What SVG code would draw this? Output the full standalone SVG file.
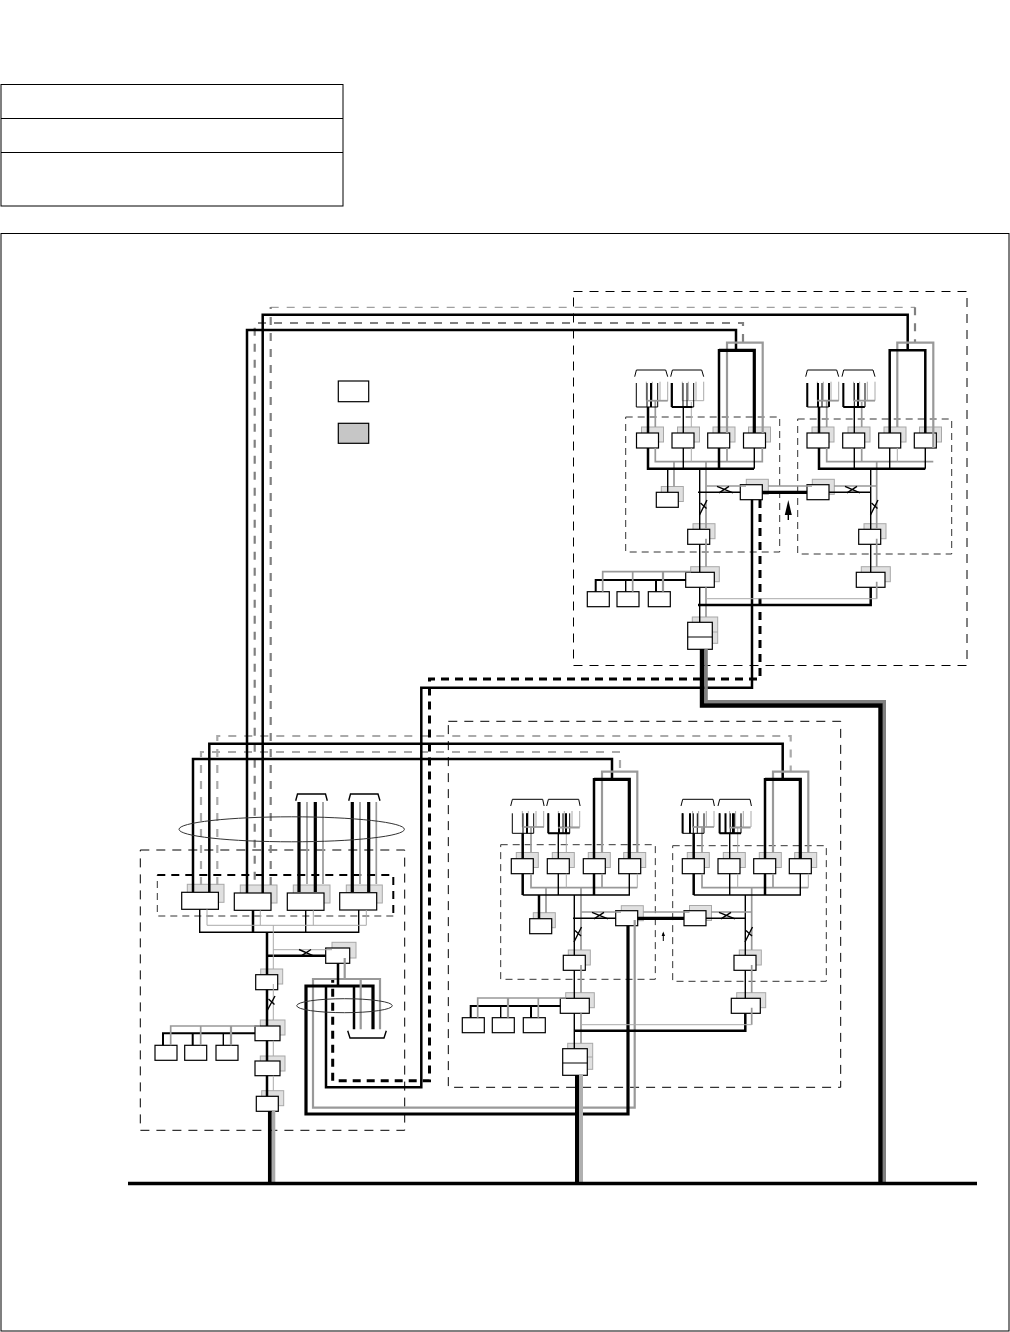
<svg xmlns="http://www.w3.org/2000/svg" width="1010" height="1332" viewBox="0 0 1010 1332">
<style>
rect,path,ellipse{fill:none}
.box{stroke:#000;stroke-width:1}
.s{fill:#e0e0e0;stroke:#a8a8a8;stroke-width:1}
.f{fill:#fff;stroke:#000;stroke-width:1.2}
.big{stroke:#000;stroke-width:1;stroke-dasharray:9 7}
.sub{stroke:#333;stroke-width:1;stroke-dasharray:7 5}
.b0{stroke:#000;stroke-width:1}
.b1{stroke:#000;stroke-width:1.4}
.t{stroke:#000;stroke-width:2}
.b2{stroke:#000;stroke-width:2.5}
.b3{stroke:#000;stroke-width:3.2}
.g0{stroke:#aaa;stroke-width:1}
.g1{stroke:#999;stroke-width:1.7}
.g2{stroke:#999;stroke-width:2.2}
.gd1{stroke:#888;stroke-width:1;stroke-dasharray:8 8}
.gd2{stroke:#808080;stroke-width:2.2;stroke-dasharray:8 8}
.gd3{stroke:#aaa;stroke-width:2.2;stroke-dasharray:8 8}
.bd{stroke:#000;stroke-width:3;stroke-dasharray:8 6}
.oval{stroke:#333;stroke-width:1}
</style>
<defs>
<g id="combT">
<path class="b0" d="M0,6.7L1.7,0H31L33,6.7"/>
<path class="g0" d="M11.6,11.7V30.7M17.6,11.7V30.7M25.3,11.7V30.7M33,11.7V30.7M11.6,30.7H33"/>
<path class="b0" d="M1.6,13V37M12.3,13V37M16.3,13V37M23,13V37M1.6,37H23"/>
</g>
<g id="combL">
<path class="b0" d="M0,6.7L1.7,0H32L33.4,6.7"/>
<path class="g0" d="M11.6,11.7V27.7M17.6,11.7V27.7M25.3,11.7V27.7M33,11.7V27.7M11.6,27.7H33"/>
<path class="b0" d="M1.6,14V34M12.3,14V34M16.3,14V34M23,14V34M1.6,34H23"/>
</g>
</defs>

<g id="table">
<rect class="box" x="1" y="84.5" width="342" height="121.5"/>
<path class="box" d="M1,118.5H343M1,152.5H343"/>
</g>
<rect id="frame" class="box" x="1" y="233.5" width="1008" height="1097.5"/>

<g id="areas">
<rect class="big" x="573.5" y="291.5" width="393.5" height="374"/>
<rect class="sub" x="625.7" y="417" width="154" height="135"/>
<rect class="sub" x="797.7" y="419" width="154" height="135"/>
<rect class="big" x="448.3" y="721.3" width="392.4" height="366"/>
<rect class="sub" x="500.7" y="844.7" width="154.6" height="134.6"/>
<rect class="sub" x="672.7" y="845.7" width="153.6" height="135.6"/>
<rect class="big" x="140.3" y="850" width="264.4" height="280.3"/>
<path class="sub" d="M393.3,916H157.3V875"/>
<path class="bd" d="M157.3,875H393.3V916" style="stroke-width:2"/>
</g>

<g id="legend">
<rect id="legend-white" x="338.3" y="381" width="30.4" height="20.7" style="fill:#fff;stroke:#000;stroke-width:1.2"/>
<rect id="legend-gray" x="338.3" y="423.3" width="30.4" height="20" style="fill:#c6c6c6;stroke:#000;stroke-width:1.2"/>
</g>

<g id="nodes">
<g id="n-a1"><rect class="s" x="641.5" y="427" width="22" height="15"/><rect class="f" x="636.5" y="433" width="22" height="15"/></g>
<g id="n-a2"><rect class="s" x="677.5" y="427" width="22" height="15"/><rect class="f" x="672" y="433" width="22" height="15"/></g>
<g id="n-a3"><rect class="s" x="713" y="427" width="22" height="15"/><rect class="f" x="707.7" y="433" width="22" height="15"/></g>
<g id="n-a4"><rect class="s" x="748.5" y="427" width="22" height="15"/><rect class="f" x="743.5" y="433" width="22" height="15"/></g>
<g id="n-a5"><rect class="s" x="661.3" y="486.5" width="22" height="15"/><rect class="f" x="656.3" y="492.3" width="22" height="15"/></g>
<g id="n-a6"><rect class="s" x="746.3" y="479.3" width="22" height="15"/><rect class="f" x="740.3" y="484.7" width="22" height="15"/></g>
<g id="n-a7"><rect class="s" x="693" y="523.7" width="22" height="15"/><rect class="f" x="687.7" y="529.3" width="22" height="15"/></g>
<g id="n-a8"><rect class="s" x="690.7" y="566.7" width="28.6" height="15"/><rect class="f" x="685.7" y="572.3" width="28.6" height="15"/></g>
<g id="n-a9"><rect class="f" x="587.3" y="591.7" width="22" height="15"/></g>
<g id="n-a10"><rect class="f" x="617" y="591.7" width="22" height="15"/></g>
<g id="n-a11"><rect class="f" x="648.3" y="591.7" width="22" height="15"/></g>
<g id="n-a12"><rect class="s" x="692.3" y="617" width="25.4" height="26.3"/><path class="s" d="M692.3,632H717.7"/><rect class="f" x="687.7" y="622.3" width="24.6" height="27"/><path class="b0" d="M687.7,637H712.3"/></g>

<g id="n-b1"><rect class="s" x="812" y="427" width="22" height="15"/><rect class="f" x="807" y="433" width="22" height="15"/></g>
<g id="n-b2"><rect class="s" x="848" y="427" width="22" height="15"/><rect class="f" x="842.7" y="433" width="22" height="15"/></g>
<g id="n-b3"><rect class="s" x="884" y="427" width="22" height="15"/><rect class="f" x="878.7" y="433" width="22" height="15"/></g>
<g id="n-b4"><rect class="s" x="919.5" y="427" width="22" height="15"/><rect class="f" x="914.3" y="433" width="22" height="15"/></g>
<g id="n-b5"><rect class="s" x="812.3" y="479.3" width="22" height="15"/><rect class="f" x="807" y="484.7" width="22" height="15"/></g>
<g id="n-b6"><rect class="s" x="864" y="523.7" width="22" height="15"/><rect class="f" x="858.7" y="529.3" width="22" height="15"/></g>
<g id="n-b7"><rect class="s" x="861.3" y="566.7" width="29" height="15"/><rect class="f" x="856.3" y="572.3" width="28.7" height="15"/></g>

<g id="n-c1"><rect class="s" x="516.3" y="852.5" width="22" height="15"/><rect class="f" x="511.3" y="858.7" width="22" height="15"/></g>
<g id="n-c2"><rect class="s" x="552.3" y="852.5" width="22" height="15"/><rect class="f" x="547.3" y="858.7" width="22" height="15"/></g>
<g id="n-c3"><rect class="s" x="588.3" y="852.5" width="22" height="15"/><rect class="f" x="583.3" y="858.7" width="22" height="15"/></g>
<g id="n-c4"><rect class="s" x="623.7" y="852.5" width="22" height="15"/><rect class="f" x="618.7" y="858.7" width="22" height="15"/></g>
<g id="n-c5"><rect class="s" x="533.3" y="912.7" width="22" height="15"/><rect class="f" x="529.7" y="918.7" width="22" height="15"/></g>
<g id="n-c6"><rect class="s" x="621.3" y="905.7" width="22" height="15"/><rect class="f" x="615.7" y="910.7" width="22" height="15"/></g>
<g id="n-c7"><rect class="s" x="568.3" y="950" width="22" height="15"/><rect class="f" x="563.3" y="955.3" width="22" height="15"/></g>
<g id="n-c8"><rect class="s" x="565.7" y="992.7" width="28.6" height="15"/><rect class="f" x="560.3" y="998.3" width="29" height="15"/></g>
<g id="n-c9"><rect class="f" x="462.3" y="1017.7" width="22" height="15"/></g>
<g id="n-c10"><rect class="f" x="492.3" y="1017.7" width="22" height="15"/></g>
<g id="n-c11"><rect class="f" x="523.3" y="1017.7" width="22" height="15"/></g>
<g id="n-c12"><rect class="s" x="567.7" y="1043.3" width="25" height="26"/><path class="s" d="M567.7,1057H592.7"/><rect class="f" x="562.7" y="1048.7" width="24.6" height="26.6"/><path class="b0" d="M562.7,1063H587.3"/></g>

<g id="n-d1"><rect class="s" x="687.3" y="852.5" width="22" height="15"/><rect class="f" x="682.3" y="858.7" width="22" height="15"/></g>
<g id="n-d2"><rect class="s" x="723.3" y="852.5" width="22" height="15"/><rect class="f" x="718" y="858.7" width="22" height="15"/></g>
<g id="n-d3"><rect class="s" x="759.3" y="852.5" width="22" height="15"/><rect class="f" x="753.7" y="858.7" width="22" height="15"/></g>
<g id="n-d4"><rect class="s" x="794.7" y="852.5" width="22" height="15"/><rect class="f" x="789.3" y="858.7" width="22" height="15"/></g>
<g id="n-d5"><rect class="s" x="689.5" y="905.5" width="22" height="15"/><rect class="f" x="684" y="910.7" width="22" height="15"/></g>
<g id="n-d6"><rect class="s" x="739.3" y="950" width="22" height="15"/><rect class="f" x="734" y="955.3" width="22" height="15"/></g>
<g id="n-d7"><rect class="s" x="736.7" y="992.7" width="29" height="15"/><rect class="f" x="731.3" y="998.3" width="29" height="15"/></g>

<g id="n-e1"><rect class="s" x="187.3" y="884.3" width="36.7" height="18"/><rect class="f" x="181.7" y="892.3" width="36.7" height="17"/></g>
<g id="n-e2"><rect class="s" x="240.3" y="885" width="36.7" height="18"/><rect class="f" x="234.3" y="893" width="36.7" height="17.3"/></g>
<g id="n-e3"><rect class="s" x="293.3" y="885" width="36.7" height="18"/><rect class="f" x="287.3" y="893" width="36.7" height="17.3"/></g>
<g id="n-e4"><rect class="s" x="346.3" y="885" width="36" height="18"/><rect class="f" x="339.7" y="892.7" width="37" height="17.3"/></g>
<g id="n-e5"><rect class="s" x="332" y="942.3" width="24" height="15.7"/><rect class="f" x="325.7" y="948" width="24" height="15.3"/></g>
<g id="n-e6"><rect class="s" x="260.7" y="969" width="22" height="15"/><rect class="f" x="255.7" y="974.7" width="22" height="15"/></g>
<g id="n-e7"><rect class="s" x="260.3" y="1020" width="24.7" height="15"/><rect class="f" x="255" y="1026" width="25" height="14.7"/></g>
<g id="n-e8"><rect class="f" x="155" y="1045.3" width="22" height="15"/></g>
<g id="n-e9"><rect class="f" x="184.7" y="1045.3" width="22" height="15"/></g>
<g id="n-e10"><rect class="f" x="216" y="1045.3" width="22" height="15"/></g>
<g id="n-e11"><rect class="s" x="260.3" y="1056" width="24.7" height="15"/><rect class="f" x="255" y="1061" width="25" height="14.7"/></g>
<g id="n-e12"><rect class="s" x="261.7" y="1090.7" width="22" height="15"/><rect class="f" x="256.3" y="1096.3" width="22" height="15"/></g>
</g>

<g id="connectors">
<!-- long dashed feeds -->
<path class="gd1" d="M270.7,307.3H915"/>
<path class="gd2" d="M270.7,885V307"/>
<path class="gd2" d="M915,307.3V343"/>
<path class="gd2" d="M743,342V323H254.7V885"/>
<path class="gd3" d="M217.3,885V736H790.7V771"/>
<path class="gd3" d="M201,885V752H620V771"/>
<path class="bd" d="M760,500V679H429.5V1080.7H332.7V980"/>

<!-- long solid feeds -->
<path class="b2" d="M736,350V330H247V893"/>
<path class="b2" d="M907.7,350V314.7H262.7V893"/>
<path class="b2" d="M612,779V759H193V892"/>
<path class="b2" d="M782.7,779V743.7H209.3V892"/>
<path class="b2" d="M752,499.7V687.7H421.3V1087.3H326V986"/>
<path class="g2" d="M634.7,920V1107.7H313V979H380V1029.3"/>
<path class="b3" d="M628,925.7V1114H306V986H373V1029.3"/>
<path class="g2" d="M344.7,958V979M360.7,979V1029.3"/>
<path class="b2" d="M338,963.3V986M354,986V1029.3"/>
<path class="b1" d="M347.7,1030.7L350,1038H384L386.3,1030.7"/>

<!-- backbone -->
<path d="M706,649V701.7H884.2V1183" style="stroke:#808080;stroke-width:3.6"/>
<path d="M702,649V705.5H880.5V1183" style="stroke:#000;stroke-width:4.4"/>
<path d="M581,1075V1183" style="stroke:#b0b0b0;stroke-width:4"/>
<path d="M577,1075V1183" style="stroke:#000;stroke-width:4"/>
<path d="M273.5,1111V1183" style="stroke:#aaa;stroke-width:3.6"/>
<path d="M269.8,1111V1183" style="stroke:#000;stroke-width:3.7"/>
<path d="M128,1183.5H977" style="stroke:#000;stroke-width:3.5"/>

<!-- group a -->
<path class="g2" d="M727,433V342.7H762.7V433"/>
<path class="b2" d="M719,433V350.3H754"/>
<path class="b3" d="M719,350.3H754.3V433"/>
<path class="g1" d="M655.3,427V401"/>
<path class="g0" d="M691.3,427V402"/>
<path class="g1" d="M655.3,448V461.7H762.3V448M727,448V461.7M706,461.7V529M674,461.7V486.5"/>
<path class="g0" d="M691.3,448V461.7"/>
<path class="b2" d="M648,433V407M648,448V468.7H754"/>
<path class="b1" d="M683.3,433V407M683.3,448V468.7M754.3,448V468.7M699.7,468.7V529.3M667.7,468.7V492.3"/>
<path class="b2" d="M719,448V468.7"/>
<path class="b1" d="M698,492.3H740.3"/>
<path class="g1" d="M706.7,486H746"/>
<path class="b1" d="M717,486.3L733,492.8M719,492.8L729,486.3"/>
<path class="b1" d="M699.5,515L707,500M700.5,503L706.5,508.5"/>
<path class="b3" d="M762,492.3H807"/>
<path class="g1" d="M768,486H812"/>
<path class="b1" d="M699.7,544.3V572.3M699.7,587.3V622.3"/>
<path class="g1" d="M706,538.7V566.7M706,587.3V617"/>
<use href="#combT" x="634.7" y="370"/>
<use href="#combT" x="670.7" y="370"/>
<path class="t" d="M651,383V407M671.7,383V407M671.7,407H692.3"/>
<path class="g1" d="M646.3,400.7H667.7"/>

<!-- group b -->
<path class="g2" d="M897.3,427V342.7H933.3V448"/>
<path class="b2" d="M889.7,433V350.3H925.3V433"/>
<path class="g1" d="M826.7,427V401M861.7,427V402"/>
<path class="g1" d="M826.7,448V461.7H933.3M861.7,448V461.7M876.7,461.7V529"/>
<path class="g0" d="M897.3,448V461.7"/>
<path class="b2" d="M819,433V407M819,448V468.7H925.3"/>
<path class="b1" d="M854.3,433V407M854.3,448V468.7M889.7,448V468.7M925.3,448V468.7M870.7,468.7V529.3"/>
<path class="b1" d="M829,492.3H870.7"/>
<path class="g1" d="M834,486H877"/>
<path class="b1" d="M845,486.3L860,492.8M847,492.8L857,486.3"/>
<path class="b1" d="M870.5,515L878,500M871.5,503L877.5,508.5"/>
<path class="b1" d="M870.7,544.3V572.3"/>
<path class="g1" d="M876.7,538.7V566.7M876.7,581.7V598.7"/>
<use href="#combT" x="805.7" y="370"/>
<use href="#combT" x="842" y="370"/>
<path class="t" d="M807.3,383V407M818,383V407M829,383V407M843.3,383V407M858,383V407M843.3,407H864.7"/>
<path class="g1" d="M817.3,400.7H838.7M854,400.7H875"/>

<!-- lower feeder group a -->
<path class="t" d="M595.7,591.7V580H686M656,580V591.7"/>
<path class="b1" d="M625.7,580V591.7"/>
<path class="g1" d="M602.7,591.7V571.7H691M632.7,571.7V591.7"/>
<path class="g2" d="M663,571.7V591.7"/>
<path class="b2" d="M698,605H870.7V587.3"/>
<path class="g0" d="M707,598.7H876.7"/>

<!-- group c -->
<path class="g2" d="M602,852.5V771.7H637.3V852.5"/>
<path class="b2" d="M594,858.7V779.3H629.3"/>
<path class="b3" d="M594,779.3H629.3V858.7"/>
<path class="g1" d="M531,852.5V827"/>
<path class="g0" d="M566.3,852.5V827"/>
<path class="g1" d="M531,873.7V887.7H637.3M602,873.7V887.7M581,887.7V950M546,887.7V913"/>
<path class="g0" d="M566.3,873.7V887.7M637.3,873.7V887.7"/>
<path class="b2" d="M522.7,858.7V833.3M522.7,873.7V895M594,873.7V895M539,895V918.7"/>
<path class="b1" d="M522.7,895H629.3V873.7M558.3,873.7V895M558.3,858.7V833.3M574.3,895V955.3"/>
<path class="b1" d="M573,918.3H615.7"/>
<path class="g1" d="M581,912H621"/>
<path class="b1" d="M592,912.3L608,918.8M594,918.8L604,912.3"/>
<path class="b1" d="M574,942L581.5,927M575,930.5L581,936"/>
<path class="b3" d="M637.7,918.3H684"/>
<path class="g1" d="M643.3,912H689.5"/>
<path class="b1" d="M574.3,970.3V998.3M574.3,1013.3V1048.7"/>
<path class="g1" d="M581,965V992.7M581,1013.3V1043.3"/>
<use href="#combL" x="510.7" y="799.3"/>
<use href="#combL" x="546.7" y="799.3"/>
<path class="t" d="M527,813.3V833.3M548.3,813.3V833.3M559,813.3V833.3M566,813.3V833.3M548.3,833.3H569.7"/>
<path class="g1" d="M522.7,827H544M558.3,827.7H579.7"/>

<!-- group d -->
<path class="g2" d="M773,852.5V771.7H808.3V852.5"/>
<path class="b2" d="M765,858.7V779.3H800.3"/>
<path class="b3" d="M765,779.3H800.3V858.7"/>
<path class="g1" d="M702,852.5V827"/>
<path class="g0" d="M737.7,852.5V827"/>
<path class="g1" d="M702,873.7V887.7H808.3M773,873.7V887.7M751.7,887.7V950"/>
<path class="g0" d="M737.7,873.7V887.7M808.3,873.7V887.7"/>
<path class="b2" d="M693.7,858.7V833.3M693.7,873.7V895M765,873.7V895"/>
<path class="b1" d="M693.7,895H800.3V873.7M729.7,873.7V895M729.7,858.7V833.3M745.3,895V955.3"/>
<path class="b1" d="M706,918.3H745.3"/>
<path class="g1" d="M711,912H752"/>
<path class="b1" d="M719,912.3L735,918.8M721,918.8L731,912.3"/>
<path class="b1" d="M745,942L752.5,927M746,930.5L752,936"/>
<path class="b1" d="M745.3,970.3V998.3"/>
<path class="g1" d="M751.7,965V992.7M751.7,1007.7V1024.7"/>
<use href="#combL" x="681" y="799.3"/>
<use href="#combL" x="718" y="799.3"/>
<path class="t" d="M682.6,813.3V833.3M690,813.3V833.3M719.6,813.3V833.3M725.5,813.3V833.3M733,813.3V833.3M719.6,833.3H741"/>
<path class="g1" d="M692.6,827H714M729,827.7H750.5"/>

<!-- lower feeder group c -->
<path class="t" d="M470.7,1017.7V1006H560.3M531,1006V1017.7"/>
<path class="b1" d="M500.7,1006V1017.7"/>
<path class="g1" d="M477.7,1017.7V998H566M538.3,998V1017.7"/>
<path class="g2" d="M508,998V1017.7"/>
<path class="b2" d="M574,1030.7H745.3V1013.3"/>
<path class="g0" d="M581,1024.7H751.7"/>

<!-- group e -->
<path class="b3" d="M299,892V802M315.3,892V802M352.3,892V802M368.7,892V802"/>
<path class="g1" d="M307,884V802M323,884V802M360,884V802M376.3,884V802"/>
<path class="b1" d="M295.7,800.7L297.5,794H325.5L327.3,800.7M348.7,800.7L350.5,794H378L380,800.7"/>
<path class="b1" d="M199.7,909.3V932.3H358.7V910M305.7,910.3V932.3"/>
<path class="b2" d="M253,910.3V932.3M267,932.3V974.7M267,955.7H325.7M267,989.7V1026M267,1040.7V1061M267,1075.7V1096.3"/>
<path class="g0" d="M207,909.3V925.3H366.3V910M260.3,910.3V925.3M313.3,910.3V925.3M273.3,925.3V969M273.3,949.7H332M273.3,984V1020M273.3,1040.7V1056M273.3,1075.7V1090.7"/>
<path class="b1" d="M299,949.5L314,956.2M301,956.2L311,949.5"/>
<path class="b1" d="M267.5,1010L275,996M268.5,999L274.5,1004.5"/>
<path class="t" d="M163,1045.3V1033.3H255M192.7,1033.3V1045.3"/>
<path class="b1" d="M223.3,1033.3V1045.3"/>
<path class="g1" d="M170.7,1045.3V1026H260M200.7,1026V1045.3"/>
<path class="g2" d="M231,1026V1045.3"/>
</g>

<g id="rings">
<ellipse class="oval" cx="291.7" cy="829.3" rx="112.7" ry="12.5"/>
<ellipse class="oval" cx="344.5" cy="1005.7" rx="47.8" ry="7"/>
</g>

<g id="arrows">
<path class="b1" d="M788.3,510V520"/>
<path d="M788.3,500L791.8,515H784.8Z" style="fill:#000"/>
<path class="b0" d="M663.3,933V941"/>
<path d="M663.3,931.5L665,936H661.6Z" style="fill:#000"/>
</g>
</svg>
